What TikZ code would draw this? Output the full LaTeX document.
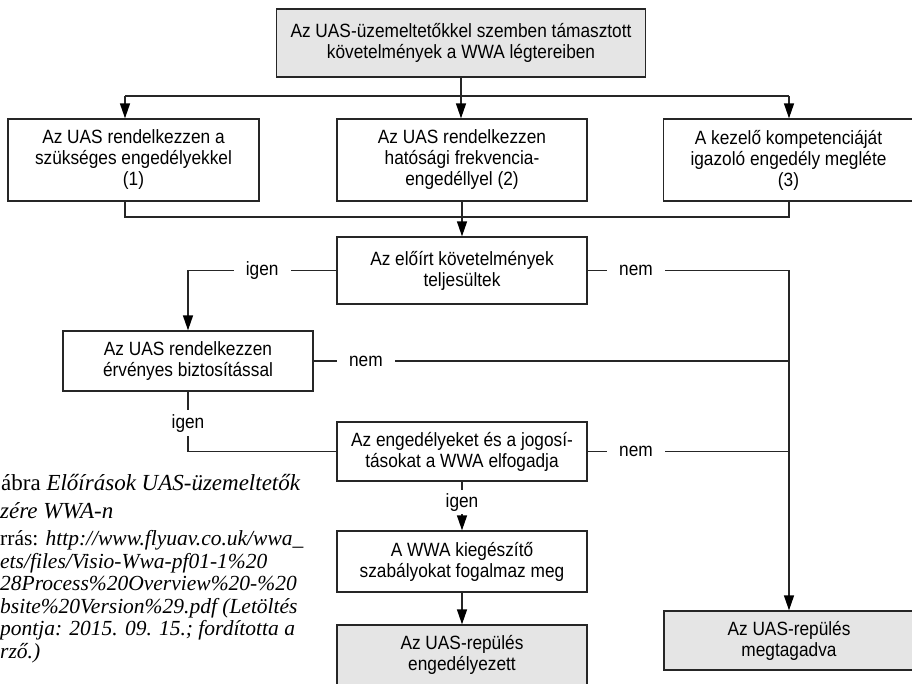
\documentclass[tikz,border=0pt]{standalone}
\usepackage{fontspec}
\setmainfont{Liberation Serif}
\newfontfamily\diagfont[FakeStretch=0.9]{Liberation Sans}
\usetikzlibrary{arrows.meta}
\begin{document}
\begin{tikzpicture}[x=1pt,y=-1pt,
  box/.style={draw=black!85, line width=1.3pt, align=center, inner sep=0pt,
    minimum width=250, font=\diagfont\fontsize{19.2}{21}\selectfont},
  gbox/.style={box, fill=black!10},
  ln/.style={draw=black!85, line width=1.3pt},
  arr/.style={ln, -{Triangle[length=15pt,width=10pt,color=black]}},
  lab/.style={fill=white, inner xsep=12pt, inner ysep=5pt, font=\diagfont\fontsize{19.2}{21}\selectfont},
  captxt/.style={anchor=base west, inner sep=0pt, font=\fontsize{21.5}{22}\selectfont},
  captbig/.style={anchor=base west, inner sep=0pt, font=\fontsize{23}{24}\selectfont},
]
\useasboundingbox (0,0) rectangle (912,683);

% boxes
\node[gbox, minimum width=369, minimum height=68] (top) at (461,43)
  {Az UAS-üzemeltetőkkel szemben támasztott\\követelmények a WWA légtereiben};
\node[box, minimum width=251, minimum height=82] (b1) at (133.5,160)
  {Az UAS rendelkezzen a\\szükséges engedélyekkel\\(1)};
\node[box, minimum height=82] (b2) at (462,160)
  {Az UAS rendelkezzen\\hatósági frekvencia-\\engedéllyel (2)};
\node[box, minimum height=82] (b3) at (788.5,160)
  {A kezelő kompetenciáját\\igazoló engedély megléte\\(3)};
\node[box, minimum height=67] (req) at (462,270.5)
  {Az előírt követelmények\\teljesültek};
\node[box, minimum height=60] (ins) at (188,361)
  {Az UAS rendelkezzen\\érvényes biztosítással};
\node[box, minimum height=59] (acc) at (462,451.5)
  {Az engedélyeket és a jogosí-\\tásokat a WWA elfogadja};
\node[box, minimum height=61] (sup) at (462,561.5)
  {A WWA kiegészítő\\szabályokat fogalmaz meg};
\node[gbox, minimum height=60] (ok) at (462,655)
  {Az UAS-repülés\\engedélyezett};
\node[gbox, minimum height=59] (deny) at (789,640.5)
  {Az UAS-repülés\\megtagadva};

% top distribution
\coordinate (t1) at (125,96);
\coordinate (t3) at (789,96);
\draw[ln] (t1) -- (t3);
\draw[arr] (t1) -- (t1 |- b1.north);
\draw[arr] (t3) -- (t3 |- b3.north);
\draw[arr] (top.south) -- (top.south |- b2.north);

% collector
\coordinate (c1) at (125,217);
\coordinate (c3) at (789,217);
\draw[ln] (c1 |- b1.south) -- (c1) -- (c3) -- (c3 |- b3.south);
\draw[arr] (b2.south) -- (req.north);

% decisions
\coordinate (r1) at (ins.north |- req.west);
\draw[arr] (req.west) -- node[lab, pos=0.5]{igen} (r1) -- (ins.north);
\coordinate (rr) at (deny.north |- req.east);
\draw[arr] (req.east) -- node[lab, pos=0.24]{nem} (rr) -- (deny.north);
\draw[ln] (ins.east) -- node[lab, pos=0.11]{nem} (ins.east -| deny.north);
\draw[ln] (acc.east) -- node[lab, pos=0.24]{nem} (acc.east -| deny.north);
\coordinate (i1) at (ins.south |- acc.west);
\draw[ln] (ins.south) -- node[lab, pos=0.53, inner ysep=4pt]{igen} (i1) -- (acc.west);
\draw[arr] (acc.south) -- node[lab, pos=0.42, inner ysep=3pt]{igen} (sup.north);
\draw[arr] (sup.south) -- (ok.north);

% caption (cut at left edge)
\node[captbig] (k1) at (1,490) {ábra \textit{Előírások UAS-üzemeltetők}};
\node[captbig] (k2) at (0,518) {\textit{zére WWA-n}};
\node[captxt] (k3) at (0,545) {rrás: \textit{http://www.flyuav.co.uk/wwa\_}};
\node[captxt] (k4) at (0,568) {\textit{ets/files/Visio-Wwa-pf01-1\%20}};
\node[captxt] (k5) at (0,590) {\textit{28Process\%20Overview\%20-\%20}};
\node[captxt] (k6) at (0,613) {\textit{bsite\%20Version\%29.pdf (Letöltés}};
\node[captxt] (k7) at (0,635) {\textit{pontja: 2015. 09. 15.; fordította a}};
\node[captxt] (k8) at (0,658) {\textit{rző.)}};
\end{tikzpicture}
\end{document}
